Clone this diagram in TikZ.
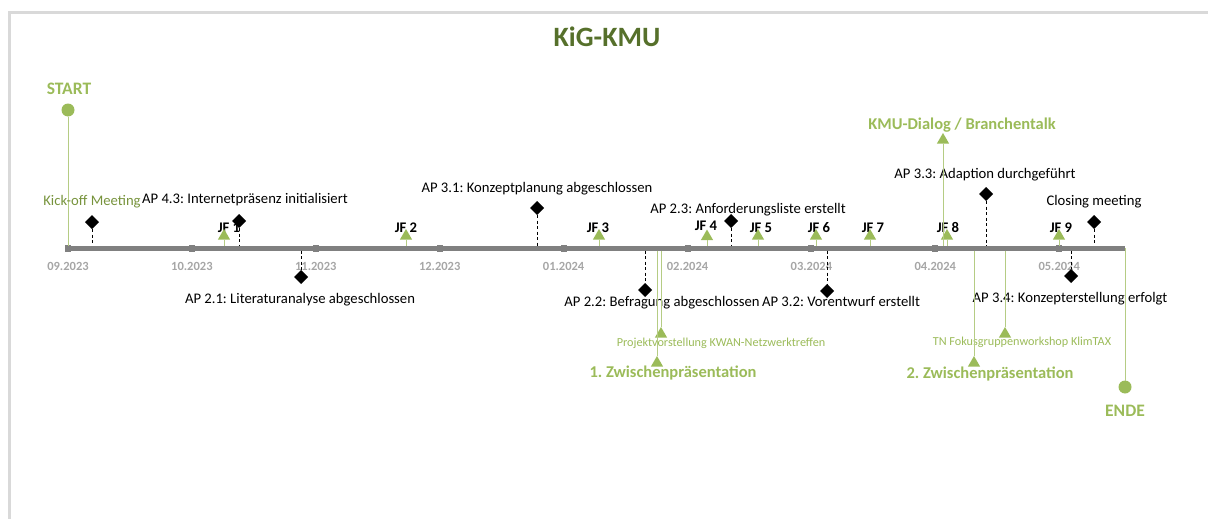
\documentclass[tikz,border=0pt]{standalone}
\usepackage{fontspec}
\setmainfont{Carlito}
\usepackage{tikz}
\usepackage{xcolor}
\usetikzlibrary{shapes.geometric,positioning}
\frenchspacing

\definecolor{kgreen}{HTML}{9BBB59}
\definecolor{kline}{HTML}{B5CC84}
\definecolor{kdark}{HTML}{56702B}
\definecolor{kolive}{HTML}{77933C}
\definecolor{kaxis}{HTML}{808080}
\definecolor{kmonth}{HTML}{A6A6A6}
\definecolor{kframe}{HTML}{D9D9D9}

\begin{document}
\begin{tikzpicture}[x=1pt, y=-1pt, inner sep=0pt, outer sep=0pt]

    \tikzstyle{txt}=[anchor=base, text=black, font=\fontsize{14.67}{17}\selectfont]
    \tikzstyle{jftxt}=[anchor=base, text=black, font=\bfseries\fontsize{14.67}{17}\selectfont]
    \tikzstyle{month}=[anchor=base, text=kmonth, font=\bfseries\fontsize{12.5}{14}\selectfont]
    \tikzstyle{big}=[anchor=base, text=kgreen, font=\bfseries\fontsize{16.5}{19}\selectfont]
    \tikzstyle{huge}=[anchor=base, text=kgreen, font=\bfseries\fontsize{17.5}{20}\selectfont]
    \tikzstyle{small}=[anchor=base, text=kgreen, font=\fontsize{12.2}{14}\selectfont]
    \tikzstyle{ms}=[diamond, fill=black, minimum size=14pt]
    \tikzstyle{jf}=[regular polygon, regular polygon sides=3, fill=kgreen, minimum size=14pt]
    \tikzstyle{tick}=[rectangle, fill=kaxis, minimum width=6pt, minimum height=7pt]
    \tikzstyle{dot}=[circle, fill=kgreen, minimum size=13pt]
    \tikzstyle{stem}=[dash pattern=on 3pt off 2.5pt, black, line width=0.8pt]
    \tikzstyle{glink}=[kline, line width=1pt]

    \useasboundingbox (0,0) rectangle (1208,519);

    % frame
    \draw[kframe, line width=3pt] (9,519) -- (9,12.5) -- (1208,12.5);

    \node[anchor=base, text=kdark, font=\bfseries\fontsize{28}{32}\selectfont] (title) at (607,47) {KiG-KMU};

    % axis
    \coordinate (a0) at (68,248);
    \coordinate (a1) at (1125,248);
    \coordinate (atop) at (68,245.5);
    \coordinate (abot) at (68,250.5);
    \draw[kaxis, line width=5pt] (a0) -- (a1);
    \foreach \lab [count=\i from 0] in {09.2023,10.2023,11.2023,12.2023,01.2024,02.2024,03.2024,04.2024,05.2024}{
        \node[tick] (t\i) at (68+123.9*\i,248) {};
        \node[month] (l\i) at (68+123.9*\i,270) {\lab};
    }

    % start / end
    \node[huge] (startL) at (69,95) {START};
    \node[dot] (start) at (68,110) {};
    \draw[glink] (start) -- (start |- atop);
    \node[dot] (ende) at (1125,387) {};
    \node[huge] (endeL) at (1125,416) {ENDE};
    \draw[glink] (a1) -- (ende);

    % Jour fixe
    \node[jftxt] (jf1L) at (229,232) {JF 1};
    \node[jftxt] (jf2L) at (406,232) {JF 2};
    \node[jftxt] (jf3L) at (598,232) {JF 3};
    \node[jftxt] (jf4L) at (706,230) {JF 4};
    \node[jftxt] (jf5L) at (761,232) {JF 5};
    \node[jftxt] (jf6L) at (819,232) {JF 6};
    \node[jftxt] (jf7L) at (873,232) {JF 7};
    \node[jftxt] (jf8L) at (948,232) {JF 8};
    \node[jftxt] (jf9L) at (1061,232) {JF 9};
    \node[jf] (jf1) at (224,236) {};
    \node[jf] (jf2) at (406,236) {};
    \node[jf] (jf3) at (599,236) {};
    \node[jf] (jf4) at (707,236.5) {};
    \node[jf] (jf5) at (758,236) {};
    \node[jf] (jf6) at (816,236) {};
    \node[jf] (jf7) at (870,236) {};
    \node[jf] (jf8) at (947,236) {};
    \node[jf] (jf9) at (1059,236) {};
    \foreach \j in {1,...,9}
        \draw[glink] (jf\j) -- (jf\j |- atop);

    % milestones above the axis
    \node[txt, text=kolive] (kickL) at (92,205) {Kick-off Meeting};
    \node[txt] (ap43L) at (245,203) {AP 4.3: Internetpräsenz initialisiert};
    \node[txt] (ap31L) at (537,192) {AP 3.1: Konzeptplanung abgeschlossen};
    \node[txt] (ap23L) at (748,213) {AP 2.3: Anforderungsliste erstellt};
    \node[txt] (ap33L) at (985,178) {AP 3.3: Adaption durchgeführt};
    \node[txt] (closeL) at (1094,205) {Closing meeting};
    \node[ms] (kick) at (92,222) {};
    \node[ms] (ap43) at (239,221) {};
    \node[ms] (ap31) at (537,208) {};
    \node[ms] (ap23) at (731,221) {};
    \node[ms] (ap33) at (986,194) {};
    \node[ms] (close) at (1094,222) {};
    \foreach \m in {kick,ap43,ap31,ap23,ap33,close}
        \draw[stem] (\m) -- (\m |- atop);

    % milestones below the axis
    \node[ms] (ap21) at (301,277) {};
    \node[ms] (ap22) at (645,290) {};
    \node[ms] (ap32) at (827,291) {};
    \node[ms] (ap34) at (1071,276) {};
    \node[txt] (ap21L) at (300,303) {AP 2.1: Literaturanalyse abgeschlossen};
    \node[txt] (ap22L) at (662,306) {AP 2.2: Befragung abgeschlossen};
    \node[txt] (ap32L) at (841,306) {AP 3.2: Vorentwurf erstellt};
    \node[txt] (ap34L) at (1070,302) {AP 3.4: Konzepterstellung erfolgt};
    \foreach \m in {ap21,ap22,ap32,ap34}
        \draw[stem] (\m |- abot) -- (\m);

    % events
    \node[big] (kmuL) at (962,129) {KMU-Dialog / Branchentalk};
    \node[jf] (kmu) at (943,140) {};
    \draw[glink] (kmu) -- (kmu |- atop);

    \node[small] (kwanL) at (721,346) {Projektvorstellung KWAN-Netzwerktreffen};
    \node[big] (zp1L) at (673,377) {1. Zwischenpräsentation};
    \node[jf] (kwan) at (661,334) {};
    \node[jf] (zp1) at (657,363) {};
    \draw[glink] (kwan |- abot) -- (kwan);
    \draw[glink] (zp1 |- abot) -- (zp1);

    \node[small] (tnL) at (1022,345) {TN Fokusgruppenworkshop KlimTAX};
    \node[big] (zp2L) at (990,378) {2. Zwischenpräsentation};
    \node[jf] (tn) at (1005,334) {};
    \node[jf] (zp2) at (974,363) {};
    \draw[glink] (tn |- abot) -- (tn);
    \draw[glink] (zp2 |- abot) -- (zp2);

\end{tikzpicture}
\end{document}
